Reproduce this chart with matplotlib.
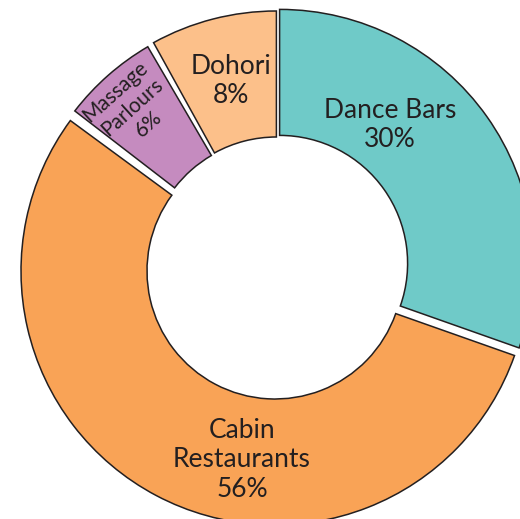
import matplotlib
matplotlib.use("Agg")
import matplotlib.pyplot as plt
import numpy as np

# ---- data ----
categories = ["Dance Bars", "Cabin\nRestaurants", "Massage\nParlours", "Dohori"]
shares = [30.4, 54.8, 6.6, 8.2]          # angular share as drawn
pct_labels = ["30%", "56%", "6%", "8%"]   # printed percentages

# ---- styles ----
colors = ["#6FCAC8", "#F9A356", "#C58BBF", "#FCC08A"]
edge = "#231F20"
text_color = "#231F20"
R_OUT, WIDTH = 254, 126
# per-wedge small offsets (px, data coords, y up) and angular trims (deg) to form the white gaps
offsets = [(3.6, 2.6), (-1.0, -5.0), (0.0, 0.0), (0.4, 1.0)]
trims = [(0.0, 0.0), (0.4, 0.0), (0.8, 0.9), (0.0, 0.6)]

plt.rcParams["font.family"] = ["Lato", "DejaVu Sans"]

fig = plt.figure(figsize=(5.2, 5.19), dpi=100)
ax = fig.add_axes([0, 0, 1, 1])

wedges, _ = ax.pie(shares, colors=colors, startangle=90, counterclock=False,
                   radius=R_OUT,
                   wedgeprops=dict(width=WIDTH, edgecolor=edge, linewidth=1.1))
for w, (dx, dy), (t1, t2) in zip(wedges, offsets, trims):
    cx, cy = w.center
    w.set_center((cx + dx, cy + dy))
    w.set_theta1(w.theta1 + t1)
    w.set_theta2(w.theta2 - t2)

ax.set_xlim(-276, 244)
ax.set_ylim(-253, 266)
ax.set_aspect("equal")
ax.axis("off")

# label layout: (centre x px, first baseline y px, line step px, font size, rotation)
def to_data(x, y):
    return x - 276, 266 - y

label_layout = [
    (390, 118.5, 28.7, 19, 0),
    (242, 437.5, 29.7, 19, 0),
    None,
    (231, 74.0, 29.0, 19, 0),
]
for cat, pct, lay in zip(categories, pct_labels, label_layout):
    if lay is None:
        continue
    x, y0, step, fs, rot = lay
    for i, line in enumerate(cat.split("\n") + [pct]):
        xd, yd = to_data(x, y0 + i * step)
        ax.text(xd, yd, line, ha="center", va="baseline", fontsize=fs,
                color=text_color)

# rotated Massage Parlours label
m_lines = categories[2].split("\n") + [pct_labels[2]]
m_centres = [(115, 92), (132, 107.5), (148.5, 124)]
for line, (x, y) in zip(m_lines, m_centres):
    xd, yd = to_data(x, y)
    ax.text(xd, yd, line, ha="center", va="center", fontsize=15, rotation=42,
            rotation_mode="anchor", color=text_color)

fig.savefig("out.png", dpi=100)
